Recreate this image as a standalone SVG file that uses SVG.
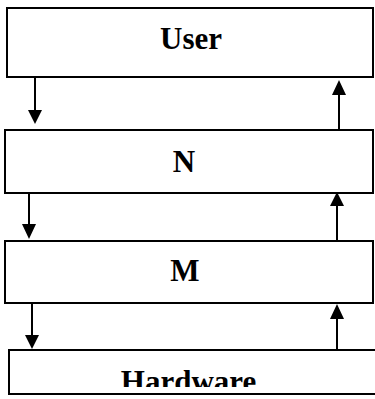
<svg xmlns="http://www.w3.org/2000/svg" width="375" height="399" viewBox="0 0 375 399">
<style>
.box{fill:#fff;stroke:#000;stroke-width:2}
.lbl{font-family:"Liberation Serif","Times New Roman",serif;font-weight:bold;font-size:31px;fill:#000;text-anchor:middle}
.ln{stroke:#000;stroke-width:2;fill:none}
</style>
<defs>
<clipPath id="hwclip"><rect x="0" y="350" width="375" height="37"/></clipPath>
</defs>
<rect width="375" height="399" fill="#fff"/>
<g id="user"><rect class="box" x="7" y="8" width="366" height="69"/><text class="lbl" x="191" y="48.5">User</text></g>
<g id="n"><rect class="box" x="5" y="130" width="368" height="63"/><text class="lbl" x="184" y="172">N</text></g>
<g id="m"><rect class="box" x="5" y="241" width="368" height="62"/><text class="lbl" x="185" y="281">M</text></g>
<g id="hardware"><rect class="box" x="9" y="350" width="370" height="44"/><text class="lbl" x="188.5" y="391.5" clip-path="url(#hwclip)">Hardware</text></g>
<g id="connectors">
<line class="ln" x1="35" y1="77" x2="35" y2="110"/><polygon points="28,110 42,110 35,124"/>
<line class="ln" x1="339" y1="130" x2="339" y2="95"/><polygon points="332,95 346,95 339,80"/>
<line class="ln" x1="29" y1="193" x2="29" y2="224"/><polygon points="22,224 36,224 29,239"/>
<line class="ln" x1="337" y1="241" x2="337" y2="206"/><polygon points="330,206 344,206 337,192"/>
<line class="ln" x1="32" y1="303" x2="32" y2="335"/><polygon points="25,335 39,335 32,349"/>
<line class="ln" x1="337" y1="350" x2="337" y2="319"/><polygon points="330,319 344,319 337,304"/>
</g>
</svg>
